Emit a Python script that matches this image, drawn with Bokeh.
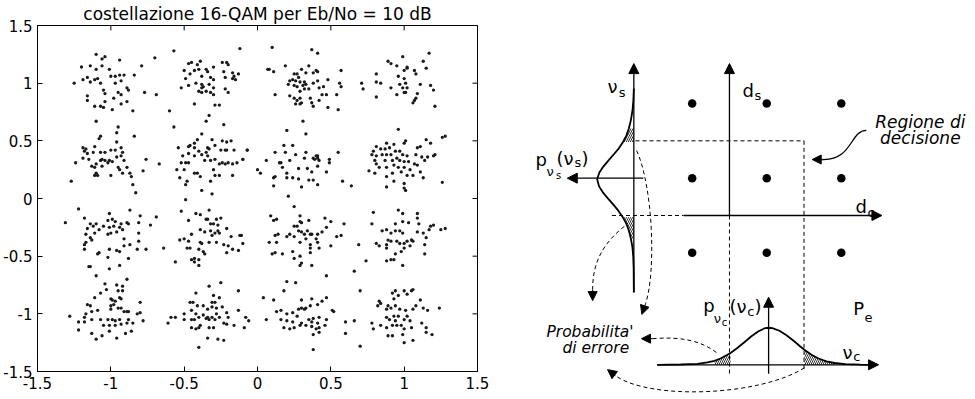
from bokeh.plotting import figure
from bokeh.models import Range1d, FixedTicker, LinearAxis, Arrow, NormalHead
from bokeh.layouts import row, column
from bokeh.embed import file_html
from bokeh.resources import INLINE
from bokeh.core.properties import value

# ---------------- left chart data ----------------
title_text = "costellazione 16-QAM per Eb/No = 10 dB"
tick_vals = [-1.5, -1.0, -0.5, 0.0, 0.5, 1.0, 1.5]
tick_labels = ["-1.5", "-1", "-0.5", "0", "0.5", "1", "1.5"]

c_m1_p1 = [(-1.10,1.25),(-1.06,1.21),(-1.04,1.23),(-1.20,1.14),(-1.14,1.15),(-1.10,1.12),(-1.06,1.15),(-1.01,1.12),(-0.94,1.20),(-1.16,1.05),(-1.19,1.03),(-1.14,1.01),(-1.11,1.03),(-1.09,1.04),(-1.07,1.00),(-1.25,1.00),(-1.00,1.06),(-0.97,1.06),(-0.94,1.07),(-0.91,1.07),(-0.84,1.07),(-0.79,1.15),(-0.97,1.00),(-0.93,1.02),(-0.89,0.96),(-0.88,0.94),(-1.05,0.94),(-1.04,0.91),(-0.95,0.92),(-0.93,0.90),(-0.98,0.87),(-1.16,0.89),(-1.16,0.85),(-1.04,0.84),(-0.93,0.82),(-0.89,0.84),(-0.77,0.92),(-0.69,0.90),(-1.11,0.80),(-1.07,0.80),(-1.05,0.79),(-0.99,0.77),(-0.85,0.76),(-0.70,1.22)]
c_m3_p1 = [(-0.57,1.28),(-0.12,1.30),(-0.47,1.17),(-0.45,1.18),(-0.41,1.16),(-0.39,1.19),(-0.30,1.14),(-0.24,1.18),(-0.21,1.18),(-0.20,1.16),(-0.50,1.11),(-0.46,1.08),(-0.43,1.11),(-0.40,1.12),(-0.35,1.12),(-0.34,1.10),(-0.38,1.06),(-0.32,1.05),(-0.30,1.03),(-0.23,1.10),(-0.22,1.05),(-0.17,1.09),(-0.16,1.06),(-0.13,1.08),(-0.17,1.04),(-0.15,1.03),(-0.49,1.04),(-0.52,0.96),(-0.47,0.98),(-0.42,1.00),(-0.38,0.99),(-0.37,0.97),(-0.38,0.96),(-0.33,0.99),(-0.30,0.96),(-0.40,0.93),(-0.38,0.92),(-0.35,0.93),(-0.32,0.92),(-0.30,0.90),(-0.22,0.95),(-0.20,0.92),(-0.43,0.82),(-0.29,0.81),(-0.26,0.81),(-0.35,0.67),(-0.33,0.72),(-0.23,0.64),(-0.57,0.62),(-0.60,0.76)]
c_m1_p3 = [(-1.10,0.67),(-0.95,0.62),(-0.96,0.57),(-1.07,0.54),(-1.08,0.52),(-0.96,0.49),(-0.84,0.54),(-1.19,0.44),(-1.17,0.43),(-1.18,0.41),(-1.11,0.45),(-1.16,0.39),(-1.12,0.40),(-1.07,0.40),(-1.04,0.40),(-1.00,0.42),(-0.97,0.42),(-0.93,0.44),(-0.92,0.40),(-1.24,0.31),(-1.19,0.35),(-1.15,0.34),(-1.13,0.28),(-1.11,0.27),(-1.10,0.30),(-1.07,0.33),(-1.06,0.34),(-1.04,0.33),(-1.02,0.31),(-1.01,0.33),(-0.99,0.32),(-0.96,0.36),(-0.93,0.37),(-0.91,0.33),(-0.95,0.27),(-0.94,0.25),(-0.89,0.27),(-1.06,0.28),(-1.10,0.22),(-1.09,0.20),(-1.11,0.20),(-1.00,0.20),(-0.92,0.22),(-0.87,0.22),(-0.86,0.19),(-0.85,0.12),(-0.83,0.05),(-0.76,0.34),(-0.78,0.24),(-1.27,0.15),(-0.67,0.30)]
c_m3_p3 = [(-0.38,0.56),(-0.41,0.51),(-0.43,0.48),(-0.46,0.46),(-0.47,0.45),(-0.43,0.44),(-0.54,0.44),(-0.51,0.37),(-0.47,0.39),(-0.43,0.37),(-0.40,0.41),(-0.38,0.38),(-0.35,0.40),(-0.34,0.44),(-0.31,0.51),(-0.29,0.46),(-0.24,0.50),(-0.21,0.49),(-0.18,0.50),(-0.25,0.42),(-0.22,0.42),(-0.21,0.42),(-0.16,0.42),(-0.07,0.42),(-0.34,0.37),(-0.36,0.33),(-0.32,0.33),(-0.29,0.34),(-0.26,0.30),(-0.24,0.31),(-0.22,0.30),(-0.20,0.31),(-0.17,0.30),(-0.14,0.31),(-0.10,0.34),(-0.52,0.31),(-0.49,0.31),(-0.47,0.31),(-0.55,0.25),(-0.50,0.25),(-0.43,0.22),(-0.41,0.22),(-0.39,0.19),(-0.30,0.25),(-0.29,0.20),(-0.26,0.20),(-0.53,0.18),(-0.48,0.15),(-0.49,0.12),(-0.32,0.15),(-0.17,0.20),(-0.38,0.07),(-0.31,0.04),(-0.49,-0.01),(0.00,0.25),(0.02,0.22),(-0.33,0.43)]
c_p3_p1 = [(0.10,1.31),(0.37,1.29),(0.41,1.26),(0.07,1.12),(0.08,1.12),(0.11,1.10),(0.19,1.15),(0.25,1.08),(0.27,1.08),(0.28,1.05),(0.30,1.12),(0.33,1.09),(0.38,1.09),(0.40,1.11),(0.41,1.10),(0.35,1.15),(0.22,1.02),(0.24,1.03),(0.26,1.02),(0.29,1.01),(0.32,1.01),(0.21,0.99),(0.25,0.98),(0.27,0.97),(0.31,0.98),(0.33,0.99),(0.35,0.95),(0.29,0.93),(0.32,0.95),(0.38,1.00),(0.41,1.02),(0.45,0.97),(0.42,0.96),(0.48,1.03),(0.56,1.00),(0.57,0.97),(0.57,1.11),(0.12,0.90),(0.22,0.89),(0.25,0.87),(0.27,0.85),(0.29,0.87),(0.29,0.82),(0.30,0.83),(0.26,0.82),(0.36,0.87),(0.37,0.83),(0.38,0.80),(0.42,0.85),(0.44,0.90),(0.47,0.90),(0.48,0.79),(0.54,0.90),(0.55,0.77)]
c_p1_p1 = [(0.99,1.23),(1.17,1.26),(0.89,1.19),(0.91,1.17),(0.95,1.15),(1.02,1.14),(1.02,1.13),(1.13,1.19),(1.15,1.13),(0.81,1.08),(1.00,1.11),(1.07,1.11),(1.08,1.08),(0.96,1.06),(1.00,1.04),(0.81,1.01),(0.84,1.00),(0.91,0.96),(0.97,0.99),(1.01,1.00),(1.11,0.99),(1.18,0.98),(0.99,0.96),(1.02,0.96),(0.95,0.90),(1.00,0.92),(1.01,0.92),(1.09,0.91),(1.20,0.94),(0.81,0.88),(1.08,0.87),(1.07,0.85),(1.06,0.83),(1.21,0.80),(0.71,1.00),(0.72,0.95)]
c_p3_p3 = [(0.31,0.67),(0.20,0.59),(0.33,0.56),(-0.07,0.42),(-0.10,0.34),(0.12,0.40),(0.18,0.46),(0.24,0.46),(0.19,0.40),(0.26,0.38),(0.33,0.40),(0.40,0.37),(0.41,0.35),(0.41,0.37),(0.39,0.34),(0.42,0.33),(0.38,0.35),(0.55,0.40),(0.49,0.34),(0.49,0.31),(0.06,0.33),(0.15,0.31),(0.16,0.31),(0.22,0.33),(0.17,0.27),(0.32,0.35),(0.28,0.26),(0.34,0.26),(0.41,0.28),(0.12,0.19),(0.11,0.18),(0.20,0.22),(0.20,0.18),(0.24,0.18),(0.28,0.17),(0.37,0.23),(0.47,0.23),(0.35,0.16),(0.38,0.16),(0.41,0.12),(0.30,0.10),(0.11,0.11),(0.21,0.02),(0.58,0.15),(0.64,0.11)]
c_p1_p3 = [(0.96,0.60),(1.15,0.51),(1.18,0.48),(1.01,0.50),(1.00,0.48),(0.88,0.48),(0.93,0.47),(1.09,0.44),(1.11,0.45),(0.81,0.45),(0.84,0.43),(0.87,0.43),(0.90,0.44),(0.94,0.41),(0.97,0.41),(0.79,0.41),(0.78,0.38),(0.81,0.37),(0.85,0.38),(0.88,0.38),(0.91,0.38),(0.99,0.38),(1.02,0.37),(1.08,0.38),(1.12,0.36),(1.16,0.36),(1.20,0.37),(1.21,0.38),(0.80,0.33),(0.87,0.33),(0.92,0.33),(0.95,0.35),(0.97,0.33),(1.00,0.32),(1.03,0.32),(1.07,0.30),(1.14,0.33),(0.81,0.30),(0.83,0.27),(0.88,0.27),(0.93,0.29),(0.96,0.27),(1.00,0.27),(1.04,0.25),(1.09,0.29),(1.11,0.23),(0.76,0.24),(0.80,0.22),(0.88,0.19),(0.92,0.22),(0.98,0.23),(1.02,0.20),(1.06,0.20),(1.13,0.18),(1.00,0.13),(0.88,0.10),(1.00,0.09),(1.01,0.07),(0.93,0.15),(1.28,0.54),(1.26,0.53),(1.26,0.14)]
c_m1_m3 = [(-1.22,-0.09),(-1.31,-0.21),(-1.18,-0.17),(-1.01,-0.13),(-0.87,-0.10),(-0.80,-0.15),(-0.69,-0.16),(-0.73,-0.23),(-0.81,-0.21),(-1.14,-0.22),(-1.10,-0.22),(-1.02,-0.19),(-0.99,-0.18),(-0.97,-0.20),(-0.93,-0.22),(-0.89,-0.21),(-0.88,-0.22),(-1.16,-0.26),(-1.12,-0.24),(-1.08,-0.27),(-1.05,-0.24),(-1.01,-0.25),(-0.98,-0.24),(-0.94,-0.25),(-0.92,-0.27),(-0.96,-0.29),(-1.00,-0.30),(-1.02,-0.31),(-1.11,-0.30),(-1.17,-0.31),(-1.14,-0.34),(-1.13,-0.36),(-1.17,-0.38),(-1.18,-0.40),(-1.18,-0.44),(-1.08,-0.47),(-1.09,-0.48),(-1.01,-0.44),(-0.96,-0.45),(-0.94,-0.46),(-0.91,-0.35),(-0.91,-0.41),(-0.87,-0.40),(-0.81,-0.37),(-0.81,-0.30),(-0.82,-0.44),(-0.76,-0.44),(-0.64,-0.43),(-1.02,-0.51),(-0.88,-0.52),(-1.14,-0.59),(-1.15,-0.59),(-1.01,-0.61),(-0.94,-0.58)]
c_m3_m3 = [(-0.52,-0.11),(-0.42,-0.13),(-0.39,-0.14),(-0.33,-0.10),(-0.47,-0.19),(-0.35,-0.18),(-0.34,-0.18),(-0.28,-0.18),(-0.25,-0.17),(-0.32,-0.22),(-0.30,-0.22),(-0.27,-0.23),(-0.39,-0.27),(-0.36,-0.29),(-0.32,-0.28),(-0.29,-0.30),(-0.27,-0.28),(-0.26,-0.30),(-0.31,-0.32),(-0.21,-0.26),(-0.18,-0.33),(-0.12,-0.32),(-0.11,-0.32),(-0.10,-0.39),(-0.45,-0.31),(-0.53,-0.36),(-0.50,-0.35),(-0.47,-0.37),(-0.39,-0.38),(-0.38,-0.39),(-0.33,-0.38),(-0.28,-0.38),(-0.23,-0.40),(-0.20,-0.41),(-0.17,-0.44),(-0.13,-0.45),(-0.48,-0.43),(-0.46,-0.43),(-0.40,-0.44),(-0.37,-0.46),(-0.36,-0.48),(-0.21,-0.47),(-0.45,-0.53),(-0.43,-0.52),(-0.40,-0.53),(-0.43,-0.55),(-0.40,-0.58),(-0.56,-0.55)]
c_m1_m1 = [(-0.89,-0.70),(-1.10,-0.67),(-1.04,-0.74),(-0.96,-0.75),(-0.92,-0.76),(-1.07,-0.82),(-1.03,-0.79),(-0.95,-0.80),(-0.92,-0.80),(-1.11,-0.86),(-1.00,-0.87),(-0.99,-0.88),(-0.97,-0.89),(-0.94,-0.86),(-0.93,-0.87),(-0.80,-0.90),(-1.16,-0.92),(-1.14,-0.93),(-1.00,-0.93),(-0.98,-0.92),(-0.95,-0.95),(-0.93,-0.95),(-0.91,-0.98),(-0.89,-0.98),(-0.88,-0.98),(-1.00,-0.96),(-1.09,-0.97),(-1.13,-0.98),(-1.17,-1.00),(-1.18,-1.03),(-1.28,-1.02),(-0.82,-1.00),(-0.80,-0.99),(-0.78,-1.06),(-1.13,-1.05),(-1.07,-1.05),(-1.02,-1.05),(-0.99,-1.05),(-0.97,-1.06),(-0.94,-1.05),(-0.88,-1.05),(-1.22,-1.07),(-1.18,-1.07),(-1.05,-1.10),(-1.01,-1.10),(-0.97,-1.10),(-0.93,-1.09),(-0.89,-1.08),(-0.85,-1.08),(-1.22,-1.14),(-1.13,-1.17),(-1.06,-1.19),(-1.01,-1.15),(-0.96,-1.21),(-0.90,-1.17),(-0.86,-1.15),(-1.10,-1.22)]
c_m3_m1 = [(-0.33,-0.76),(-0.25,-0.73),(-0.13,-0.80),(-0.42,-0.82),(-0.30,-0.84),(-0.26,-0.86),(-0.59,-1.03),(-0.61,-1.08),(-0.50,-1.00),(-0.46,-0.90),(-0.44,-0.90),(-0.41,-0.93),(-0.45,-0.97),(-0.42,-1.00),(-0.37,-0.93),(-0.31,-0.90),(-0.29,-0.90),(-0.31,-0.94),(-0.28,-0.95),(-0.24,-0.94),(-0.34,-0.96),(-0.34,-1.03),(-0.35,-1.04),(-0.33,-1.05),(-0.31,-1.03),(-0.29,-1.05),(-0.28,-1.00),(-0.26,-1.03),(-0.37,-1.01),(-0.40,-1.03),(-0.43,-1.05),(-0.45,-1.05),(-0.50,-1.05),(-0.21,-0.99),(-0.20,-1.03),(-0.13,-0.97),(-0.08,-1.03),(-0.06,-1.06),(-0.45,-1.12),(-0.42,-1.13),(-0.40,-1.12),(-0.33,-1.12),(-0.30,-1.12),(-0.23,-1.08),(-0.21,-1.09),(-0.16,-1.10),(-0.09,-1.12),(-0.34,-1.21),(-0.27,-1.22),(-0.23,-1.23),(-0.40,-1.29),(-0.39,-1.10),(-0.56,-1.03)]
c_p3_m3 = [(0.25,-0.07),(0.09,-0.15),(0.11,-0.19),(0.13,-0.18),(0.29,-0.15),(0.29,-0.20),(0.30,-0.21),(0.35,-0.19),(0.46,-0.17),(0.50,-0.20),(0.59,-0.22),(0.25,-0.24),(0.27,-0.24),(0.28,-0.28),(0.30,-0.29),(0.32,-0.31),(0.34,-0.28),(0.36,-0.31),(0.37,-0.31),(0.40,-0.35),(0.41,-0.31),(0.44,-0.29),(0.47,-0.25),(0.20,-0.33),(0.14,-0.31),(0.12,-0.32),(0.08,-0.38),(0.13,-0.38),(0.22,-0.31),(0.25,-0.33),(0.29,-0.38),(0.33,-0.35),(0.36,-0.40),(0.41,-0.38),(0.50,-0.41),(0.54,-0.33),(0.57,-0.32),(0.10,-0.48),(0.12,-0.47),(0.17,-0.48),(0.24,-0.46),(0.25,-0.52),(0.29,-0.50),(0.36,-0.43),(0.36,-0.47),(0.42,-0.43),(0.30,-0.56),(0.29,-0.58),(0.37,-0.58),(0.66,-0.63)]
c_p1_m3 = [(0.96,-0.10),(0.99,-0.13),(0.79,-0.12),(1.09,-0.13),(1.09,-0.17),(0.78,-0.22),(0.94,-0.22),(0.99,-0.20),(1.03,-0.21),(1.10,-0.22),(1.18,-0.24),(1.20,-0.23),(1.25,-0.27),(0.85,-0.28),(0.88,-0.27),(0.91,-0.30),(0.94,-0.28),(0.97,-0.28),(0.99,-0.30),(1.09,-0.29),(1.13,-0.30),(1.17,-0.27),(1.15,-0.34),(0.81,-0.39),(0.83,-0.41),(0.88,-0.40),(0.89,-0.36),(0.91,-0.37),(0.95,-0.37),(0.97,-0.39),(1.00,-0.39),(1.02,-0.37),(1.05,-0.36),(1.06,-0.37),(0.88,-0.43),(0.94,-0.48),(0.98,-0.46),(1.00,-0.43),(1.04,-0.41),(0.88,-0.54),(0.91,-0.53),(0.93,-0.53),(0.99,-0.58),(1.14,-0.48),(1.14,-0.40),(0.69,-0.40),(0.74,-0.54),(1.28,-0.26)]
c_p3_m1 = [(0.47,-0.67),(0.20,-0.72),(0.26,-0.73),(0.18,-0.80),(0.04,-0.86),(0.11,-0.88),(0.13,-0.98),(0.16,-0.97),(0.20,-1.00),(0.24,-0.99),(0.28,-0.96),(0.30,-0.95),(0.32,-0.96),(0.33,-0.95),(0.36,-0.93),(0.37,-0.87),(0.30,-0.88),(0.41,-0.92),(0.44,-0.89),(0.47,-0.86),(0.52,-0.98),(0.51,-0.97),(0.16,-1.05),(0.20,-1.06),(0.24,-1.07),(0.27,-1.02),(0.30,-1.08),(0.35,-1.05),(0.37,-1.07),(0.38,-1.04),(0.41,-1.08),(0.42,-1.03),(0.47,-1.05),(0.18,-1.12),(0.22,-1.13),(0.25,-1.12),(0.29,-1.10),(0.33,-1.10),(0.37,-1.11),(0.40,-1.13),(0.42,-1.12),(0.46,-1.10),(0.38,-1.18),(0.42,-1.16),(0.60,-1.07),(0.60,-1.17),(0.38,-1.31),(0.06,-1.05),(0.66,-1.06),(0.70,-1.28),(0.79,-1.13)]
c_p1_m1 = [(0.70,-0.80),(0.92,-0.82),(0.94,-0.80),(0.96,-0.84),(1.00,-0.80),(1.02,-0.83),(1.05,-0.80),(1.06,-0.79),(1.11,-0.88),(0.93,-0.87),(0.89,-0.93),(0.84,-0.91),(0.83,-0.89),(0.82,-0.93),(0.88,-0.96),(0.91,-0.95),(0.94,-0.93),(0.97,-0.96),(1.01,-0.97),(1.06,-0.96),(1.08,-0.93),(1.13,-0.95),(1.16,-0.97),(0.88,-1.03),(0.90,-1.05),(0.93,-1.02),(0.94,-1.06),(0.96,-1.02),(1.00,-1.05),(1.02,-1.02),(1.04,-1.06),(0.84,-1.10),(0.88,-1.12),(0.92,-1.10),(0.95,-1.10),(0.98,-1.10),(1.00,-1.13),(1.05,-1.12),(1.12,-1.08),(1.15,-1.12),(1.19,-1.18),(1.15,-1.16),(0.89,-1.19),(0.92,-1.19),(0.99,-1.18),(1.06,-1.23),(1.00,-1.25),(1.24,-0.95),(0.78,-1.08)]

clusters = [c_m1_p1, c_m3_p1, c_m1_p3, c_m3_p3, c_p3_p1, c_p1_p1, c_p3_p3, c_p1_p3,
            c_m1_m3, c_m3_m3, c_m1_m1, c_m3_m1, c_p3_m3, c_p1_m3, c_p3_m1, c_p1_m1]

# ---------------- right diagram data (units of half symbol spacing) ----------------
const_levels = [-1, 1, 3]
ns_axis_x = -2.565           # abscissa of the nu_s axis
nc_axis_y = -4.0             # ordinate of the nu_c axis
ns_curve_ds = [3.40, 3.08, 2.82, 2.55, 2.33, 2.14, 1.97, 1.80, 1.64, 1.47, 1.31, 1.15, 0.97, 0.78, 0.62, 0.46, 0.29, 0.13, -0.05, -0.21, -0.40, -0.62, -0.83, -1.10, -1.42, -2.06]
ns_curve_h = [0, 0.013, 0.035, 0.080, 0.134, 0.201, 0.290, 0.402, 0.536, 0.684, 0.818, 0.925, 0.984, 0.933, 0.831, 0.697, 0.550, 0.416, 0.295, 0.206, 0.134, 0.080, 0.040, 0.016, 0.005, 0]
nc_curve_dc = [-1.94, -1.31, -0.86, -0.59, -0.40, -0.24, -0.08, 0.03, 0.21, 0.40, 0.59, 0.78, 0.96, 1.05, 1.15, 1.34, 1.53, 1.72, 1.90, 2.01, 2.20, 2.39, 2.60, 2.82, 3.11, 3.51, 3.78]
nc_curve_h = [0, 0.008, 0.027, 0.062, 0.107, 0.169, 0.255, 0.314, 0.448, 0.603, 0.764, 0.898, 0.984, 0.992, 0.984, 0.912, 0.791, 0.643, 0.491, 0.402, 0.268, 0.169, 0.094, 0.048, 0.019, 0.005, 0]
ns_tails = [(1.97, 2.40), (-0.62, -0.05)]
nc_tails = [(-0.45, 0.03), (2.01, 2.82)]

axis_arrows = [(0, 0, 0, 4.07), (-1.23, 0, 4.09, 0), (-2.565, -2.06, -2.565, 4.07),
               (-2.31, 1.0, -4.35, 1.0), (-1.94, -4.0, 4.0, -4.0), (1.05, -4.24, 1.05, -2.19)]
dashed_xs = [[-2.52, 2.0], [2.0, 2.0], [-3.15, -1.23], [0, 0]]
dashed_ys = [[2.0, 2.0], [2.0, -4.16], [0, 0], [0, -4.24]]
# curved arrows: start, control 0, control 1, end, tip
dashed_curves = [((-2.49, 1.74), (-2.06, 0.80), (-1.96, -1.47), (-2.25, -2.36), (-2.35, -2.65)),
                 ((-2.82, -0.29), (-3.46, -0.80), (-3.67, -1.34), (-3.67, -1.98), (-3.67, -2.28)),
                 ((-0.35, -3.67), (-0.78, -3.35), (-1.31, -3.24), (-2.06, -3.30), (-2.36, -3.30)),
                 ((2.01, -4.08), (0.83, -4.83), (-2.12, -4.96), (-3.06, -4.29), (-3.27, -4.13))]
solid_curves = [((3.67, 2.28), (3.24, 2.28), (3.30, 1.47), (2.49, 1.50), (2.22, 1.50))]

big_txt = ["ν", "d", "d", "p", "(ν", ")", "p", "(ν", ")", "P", "ν"]
big_x = [-3.27, 0.35, 3.38, -5.20, -4.64, -3.97, -0.70, 0.0, 0.67, 3.32, 3.03]
big_y = [3.45, 3.34, 0.23, 1.49, 1.52, 1.52, -2.42, -2.45, -2.45, -2.50, -3.66]
sub_txt = ["s", "s", "c", "ν", "s", "ν", "c", "e", "c"]
sub_x = [-2.97, 0.67, 3.70, -4.91, -4.16, -0.42, 0.48, 3.62, 3.32]
sub_y = [3.29, 3.21, 0.07, 1.17, 1.41, -2.75, -2.58, -2.72, -3.79]
subsub_txt = ["s", "c"]
subsub_x = [-4.65, -0.21]
subsub_y = [1.06, -2.88]
region_txt = ["Regione di", "decisione"]
region_x = [5.12, 5.12]
region_y = [2.51, 2.08]
perr_txt = ["Probabilita'", "di errore"]
perr_x = [-4.91, -4.48]
perr_y = [-3.12, -3.55]

FONT = "DejaVu Sans"
TICK_LEN_X = 0.034   # inward tick length on the right edge (x units)
TICK_LEN_Y = 0.043   # inward tick length on the top edge (y units)

# ---------------- left figure ----------------
xs = [pt[0] for c in clusters for pt in c]
ys = [pt[1] for c in clusters for pt in c]

p1 = figure(width=490, height=399, x_range=Range1d(-1.5, 1.5), y_range=Range1d(-1.5, 1.5),
            output_backend="svg", toolbar_location=None,
            x_axis_location=None, y_axis_location=None,
            min_border_left=37, min_border_right=13, min_border_top=24, min_border_bottom=28)
p1.grid.visible = False
p1.outline_line_color = "black"
p1.background_fill_color = "white"
p1.border_fill_color = "white"

p1.title.text = title_text
p1.title.align = "center"
p1.title.text_font = FONT
p1.title.text_font_size = "17px"
p1.title.text_font_style = "normal"
p1.title.text_color = "black"
p1.title.standoff = 3


def make_axis():
    return LinearAxis(ticker=FixedTicker(ticks=tick_vals),
                      major_label_overrides=dict(zip(tick_vals, tick_labels)),
                      major_tick_in=5, major_tick_out=0,
                      minor_tick_line_color=None,
                      axis_line_color="black", major_tick_line_color="black",
                      major_label_text_font=FONT, major_label_text_font_size="15px",
                      major_label_text_color="black", major_label_standoff=5)


p1.add_layout(make_axis(), "below")
p1.add_layout(make_axis(), "left")

# inward ticks on the top and right edges (MATLAB box style)
top = tick_vals[-1]
p1.segment(x0=tick_vals, y0=[top] * len(tick_vals), x1=tick_vals, y1=[top - TICK_LEN_Y] * len(tick_vals),
           line_color="black", line_width=1)
p1.segment(x0=[top] * len(tick_vals), y0=tick_vals, x1=[top - TICK_LEN_X] * len(tick_vals), y1=tick_vals,
           line_color="black", line_width=1)

p1.scatter(xs, ys, marker="circle", size=3.3, fill_color="#1a1a1a", line_color=None)

# ---------------- right figure ----------------
p2 = figure(width=485, height=399, x_range=Range1d(-6.41, 6.60), y_range=Range1d(-4.93, 5.76),
            output_backend="svg", toolbar_location=None, title=None,
            x_axis_location=None, y_axis_location=None, min_border=0)
p2.grid.visible = False
p2.outline_line_color = None
p2.background_fill_color = "white"
p2.border_fill_color = "white"

# constellation dots
dx = [a for a in const_levels for b in const_levels]
dy = [b for a in const_levels for b in const_levels]
p2.scatter(dx, dy, marker="circle", size=8.5, fill_color="black", line_color=None)

# dashed threshold lines
p2.multi_line(dashed_xs, dashed_ys, line_color="black", line_width=1, line_dash="4 3")

# axes with arrow heads
for (x0, y0, x1, y1) in axis_arrows:
    p2.add_layout(Arrow(end=NormalHead(size=10, fill_color="black", line_color="black", line_width=1),
                        x_start=x0, y_start=y0, x_end=x1, y_end=y1,
                        line_color="black", line_width=1.3))

# hatched tails
ns_x = [ns_axis_x - h for h in ns_curve_h]
nc_y = [nc_axis_y + h for h in nc_curve_h]
for lo, hi in ns_tails:
    pts = [(x, y) for x, y in zip(ns_x, ns_curve_ds) if lo <= y <= hi]
    px = [q[0] for q in pts] + [ns_axis_x, ns_axis_x]
    py = [q[1] for q in pts] + [pts[-1][1], pts[0][1]]
    p2.patch(px, py, fill_alpha=0, line_color=None, hatch_pattern="\\", hatch_color="black",
             hatch_scale=4, hatch_weight=0.8)
for lo, hi in nc_tails:
    pts = [(x, y) for x, y in zip(nc_curve_dc, nc_y) if lo <= x <= hi]
    px = [q[0] for q in pts] + [pts[-1][0], pts[0][0]]
    py = [q[1] for q in pts] + [nc_axis_y, nc_axis_y]
    p2.patch(px, py, fill_alpha=0, line_color=None, hatch_pattern="\\", hatch_color="black",
             hatch_scale=4, hatch_weight=0.8)

# the two bell curves
p2.line(ns_x, ns_curve_ds, line_color="black", line_width=1.8)
p2.line(nc_curve_dc, nc_y, line_color="black", line_width=1.8)

# curved arrows
for curves, dash, lw in ((dashed_curves, "4 3", 1.0), (solid_curves, "solid", 1.3)):
    p2.bezier(x0=[c[0][0] for c in curves], y0=[c[0][1] for c in curves],
              cx0=[c[1][0] for c in curves], cy0=[c[1][1] for c in curves],
              cx1=[c[2][0] for c in curves], cy1=[c[2][1] for c in curves],
              x1=[c[3][0] for c in curves], y1=[c[3][1] for c in curves],
              line_color="black", line_width=lw, line_dash=dash)
    for c in curves:
        p2.add_layout(Arrow(end=NormalHead(size=9, fill_color="black", line_color="black", line_width=1),
                            x_start=c[3][0], y_start=c[3][1], x_end=c[4][0], y_end=c[4][1],
                            line_color="black", line_width=lw, line_dash=dash))

# texts
TF = value(FONT)
p2.text(big_x, big_y, text=big_txt, text_font=TF, text_font_size="18px",
        text_align="left", text_baseline="alphabetic", text_color="black")
p2.text(sub_x, sub_y, text=sub_txt, text_font=TF, text_font_size="13px",
        text_align="left", text_baseline="alphabetic", text_color="black")
p2.text(subsub_x, subsub_y, text=subsub_txt, text_font=TF, text_font_size="10px",
        text_align="left", text_baseline="alphabetic", text_color="black")
p2.text(region_x, region_y, text=region_txt, text_font=TF, text_font_size="17px",
        text_font_style="italic", text_align="center", text_baseline="alphabetic", text_color="black")
p2.text(perr_x, perr_y, text=perr_txt, text_font=TF, text_font_size="15.5px",
        text_font_style="italic", text_align="left", text_baseline="alphabetic", text_color="black")

# p2 sits in its own column so that its frame is not aligned with p1's frame
layout = row(p1, column(p2))
open("out.html", "w").write(file_html(layout, INLINE))
